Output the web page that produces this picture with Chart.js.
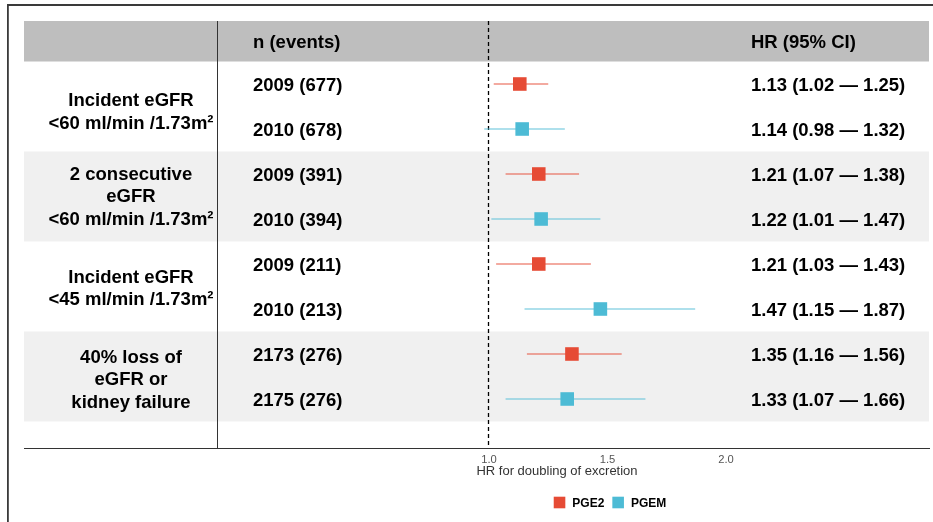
<!DOCTYPE html>
<html>
<head>
<meta charset="utf-8">
<title>PGE2 / PGEM and kidney outcomes</title>
<script src="https://cdn.jsdelivr.net/npm/chart.js@4.4.1/dist/chart.umd.min.js"></script>
<style>
  html, body { margin: 0; padding: 0; background: #fff; overflow: hidden; }
  canvas { display: block; }
</style>
</head>
<body>
<canvas id="forest" width="933" height="522"></canvas>
<script>
// ---- data -------------------------------------------------------------
const outcomes = [
  ['Incident eGFR', '<60 ml/min /1.73m\u00B2'],
  ['2 consecutive', 'eGFR', '<60 ml/min /1.73m\u00B2'],
  ['Incident eGFR', '<45 ml/min /1.73m\u00B2'],
  ['40% loss of', 'eGFR or', 'kidney failure']
];
const markers = ['PGE2', 'PGEM'];

// one entry per row: outcome 1 PGE2, outcome 1 PGEM, outcome 2 PGE2, ...
const participants = [2009, 2010, 2009, 2010, 2009, 2010, 2173, 2175];
const events       = [677, 678, 391, 394, 211, 213, 276, 276];

// hazard ratios per outcome
const hrPGE2 = [1.13, 1.21, 1.21, 1.35];
const loPGE2 = [1.02, 1.07, 1.03, 1.16];
const hiPGE2 = [1.25, 1.38, 1.43, 1.56];
const hrPGEM = [1.14, 1.22, 1.47, 1.33];
const loPGEM = [0.98, 1.01, 1.15, 1.07];
const hiPGEM = [1.32, 1.47, 1.87, 1.66];

const xTicks = [1.0, 1.5, 2.0];
const referenceHR = 1.0;
const columnHeaders = ['n (events)', 'HR (95% CI)'];
const axisTitle = 'HR for doubling of excretion';

// ---- styling / layout -------------------------------------------------
const markerColors = ['#E64B35', '#4DBBD5'];
const ciColors = ['rgba(230,75,53,0.62)', 'rgba(77,187,213,0.6)'];
const BOLD = 'bold 18.5px "Liberation Sans", Arial, sans-serif';
const layout = {
  groupX: 131, nX: 253, hrX: 751, dividerX: 217,
  lineGap: 22.7, groupNudge: [4.5, -0.7, 1, 2.3],
  titleX: 557, titleBase: 475.3,
  legendX: 610, legendY: 502.5, legendBox: 11.6
};

const hrSeries = [hrPGE2, hrPGEM];
const loSeries = [loPGE2, loPGEM];
const hiSeries = [hiPGE2, hiPGEM];
const rowOf = (o, m) => o * markers.length + m + 1;

function estimatePoints(m) {
  return hrSeries[m].map((v, o) => ({ x: v, y: rowOf(o, m) }));
}
function intervalSegments(m) {
  const pts = [];
  loSeries[m].forEach((lo, o) => {
    const r = rowOf(o, m);
    pts.push({ x: lo, y: r }, { x: hiSeries[m][o], y: r }, { x: hiSeries[m][o], y: null });
  });
  return pts;
}

const datasets = [];
markers.forEach((name, m) => {
  datasets.push({
    label: name,
    data: estimatePoints(m),
    backgroundColor: markerColors[m],
    borderWidth: 0,
    pointStyle: 'rect',
    pointRadius: 9.6,
    pointHoverRadius: 9.6
  });
});
markers.forEach((name, m) => {
  datasets.push({
    label: name + ' 95% CI',
    data: intervalSegments(m),
    showLine: true,
    spanGaps: false,
    borderColor: ciColors[m],
    borderWidth: 1.6,
    pointRadius: 0,
    pointHoverRadius: 0
  });
});

// caps-centred text helper
function textAt(ctx, str, x, yCenter, size, align) {
  ctx.textAlign = align;
  ctx.textBaseline = 'alphabetic';
  ctx.fillText(str, x, yCenter + 0.358 * size);
}

const forestTable = {
  id: 'forestTable',
  beforeDraw(chart) {
    const { ctx, chartArea: a, scales: { y } } = chart;
    ctx.save();
    ctx.fillStyle = '#fff';
    ctx.fillRect(0, 0, chart.width, chart.height);
    // outer frame
    ctx.fillStyle = '#3a3a3a';
    ctx.fillRect(7, 4, chart.width - 7, 2);
    ctx.fillRect(7, 4, 1.8, chart.height - 4);
    // header band
    ctx.fillStyle = '#BEBEBE';
    ctx.fillRect(a.left, a.top, a.right - a.left, y.getPixelForValue(0.5) - a.top);
    // alternate outcome bands
    ctx.fillStyle = '#F0F0F0';
    outcomes.forEach((_, o) => {
      if (o % 2 === 1) {
        const t = y.getPixelForValue(rowOf(o, 0) - 0.5);
        const b = y.getPixelForValue(rowOf(o, markers.length - 1) + 0.5);
        ctx.fillRect(a.left, t, a.right - a.left, b - t);
      }
    });
    ctx.restore();
  },
  beforeDatasetsDraw(chart) {
    const { ctx, chartArea: a, scales: { x } } = chart;
    ctx.save();
    ctx.strokeStyle = '#333';
    ctx.lineWidth = 1;
    ctx.beginPath();
    ctx.moveTo(layout.dividerX + 0.5, a.top);
    ctx.lineTo(layout.dividerX + 0.5, a.bottom);
    ctx.stroke();
    const rx = Math.floor(x.getPixelForValue(referenceHR)) + 0.5;
    ctx.strokeStyle = '#000';
    ctx.lineWidth = 1.3;
    ctx.setLineDash([4, 3]);
    ctx.beginPath();
    ctx.moveTo(rx, a.top);
    ctx.lineTo(rx, a.bottom);
    ctx.stroke();
    ctx.restore();
  },
  afterDatasetsDraw(chart) {
    const { ctx, chartArea: a, scales: { y } } = chart;
    ctx.save();
    ctx.fillStyle = '#000';
    ctx.font = BOLD;
    const headY = (a.top + y.getPixelForValue(0.5)) / 2;
    textAt(ctx, columnHeaders[0], layout.nX, headY, 18.5, 'left');
    textAt(ctx, columnHeaders[1], layout.hrX, headY, 18.5, 'left');

    outcomes.forEach((lines, o) => {
      const c = (y.getPixelForValue(rowOf(o, 0)) + y.getPixelForValue(rowOf(o, markers.length - 1))) / 2
                + layout.groupNudge[o];
      lines.forEach((ln, i) => {
        const ly = c + (i - (lines.length - 1) / 2) * layout.lineGap;
        textAt(ctx, ln, layout.groupX, ly, 18.5, 'center');
      });
      markers.forEach((_, m) => {
        const r = rowOf(o, m);
        const py = y.getPixelForValue(r);
        textAt(ctx, participants[r - 1] + ' (' + events[r - 1] + ')', layout.nX, py, 18.5, 'left');
        const s = hrSeries[m][o].toFixed(2) + ' (' + loSeries[m][o].toFixed(2) +
                  ' \u2014 ' + hiSeries[m][o].toFixed(2) + ')';
        textAt(ctx, s, layout.hrX, py, 18.5, 'left');
      });
    });

    // axis title
    ctx.fillStyle = '#333';
    ctx.font = '13px "Liberation Sans", Arial, sans-serif';
    ctx.textAlign = 'center';
    ctx.textBaseline = 'alphabetic';
    ctx.fillText(axisTitle, layout.titleX, layout.titleBase);

    // legend built from the marker datasets
    const fs = 12;
    ctx.font = 'bold ' + fs + 'px "Liberation Sans", Arial, sans-serif';
    const box = layout.legendBox, gapIn = 7, gapOut = 8;
    const widths = markers.map(t => ctx.measureText(t).width);
    const total = widths.reduce((s, w) => s + box + gapIn + w, 0) + gapOut * (markers.length - 1);
    let lx = layout.legendX - total / 2;
    markers.forEach((t, m) => {
      ctx.fillStyle = chart.data.datasets[m].backgroundColor;
      ctx.fillRect(lx, layout.legendY - box / 2, box, box);
      lx += box + gapIn;
      ctx.fillStyle = '#000';
      textAt(ctx, t, lx, layout.legendY, fs, 'left');
      lx += widths[m] + gapOut;
    });
    ctx.restore();
  }
};

new Chart(document.getElementById('forest'), {
  type: 'scatter',
  data: { datasets },
  options: {
    responsive: false,
    animation: false,
    devicePixelRatio: 1,
    events: [],
    layout: { autoPadding: false, padding: { left: 24, right: 4, top: 21, bottom: 0 } },
    plugins: { legend: { display: false }, tooltip: { enabled: false } },
    scales: {
      x: {
        type: 'linear',
        min: -0.962,
        max: 2.8566,
        grid: { display: false, drawTicks: false },
        border: { display: true, color: '#333', width: 1 },
        afterBuildTicks: s => { s.ticks = xTicks.map(v => ({ value: v })); },
        afterFit: s => { s.height = 74; },
        ticks: {
          padding: 5.5,
          color: '#555',
          font: { family: '"Liberation Sans", Arial, sans-serif', size: 11.2 },
          callback: v => Number(v).toFixed(1)
        }
      },
      y: {
        type: 'linear',
        display: false,
        reverse: true,
        min: -0.4,
        max: 9.089
      }
    }
  },
  plugins: [forestTable]
});
</script>
</body>
</html>
